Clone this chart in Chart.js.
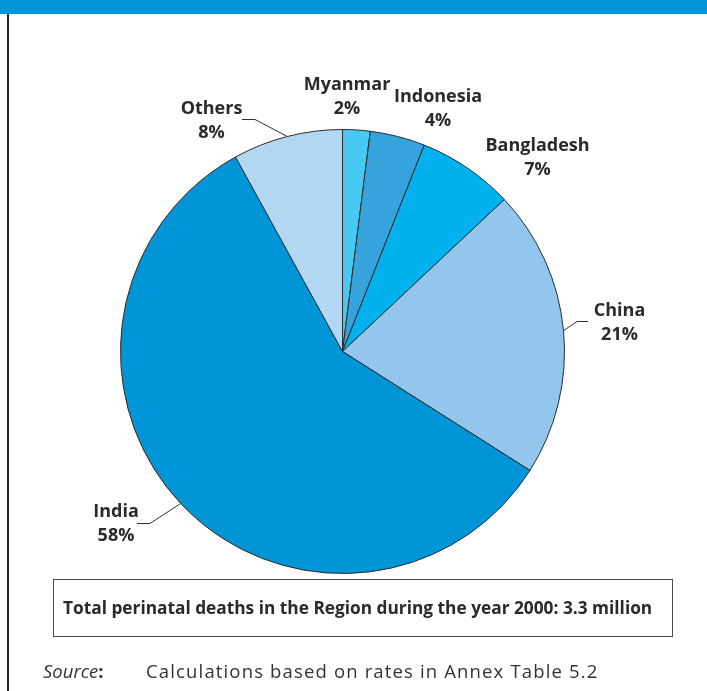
<!DOCTYPE html>
<html>
<head>
<meta charset="utf-8">
<script src="https://cdn.jsdelivr.net/npm/chart.js@4"></script>
<style>
    html, body { margin: 0; padding: 0; background: #fff; }
    #page { position: relative; width: 707px; height: 691px; overflow: hidden; }
    #topBar { position: absolute; left: 0; top: 0; width: 707px; height: 14px; background: #0095d9; }
    #sideRule { position: absolute; left: 7px; top: 14px; width: 2px; height: 677px; background: #262626; }
    #myChart { position: absolute; left: 0; top: 0; }
    #totalBox {
        position: absolute; left: 53px; top: 579px; width: 620px; height: 58px;
        box-sizing: border-box; border: 1.5px solid #4a4a4a;
        font-family: "Open Sans", sans-serif; font-weight: bold; font-size: 17.3px; color: #2a2a2a;
        line-height: 55px; padding-left: 9px; white-space: nowrap;
    }
    #source {
        position: absolute; left: 43px; top: 658px; white-space: nowrap;
        font-family: "Open Sans", sans-serif; font-size: 18.5px; color: #333;
    }
    #source i { font-style: italic; }
    #source b { font-weight: bold; }
    #source .txt { position: absolute; left: 103px; top: 0; letter-spacing: 1.15px; }
</style>
</head>
<body>
<div id="page">
    <div id="topBar"></div>
    <div id="sideRule"></div>
    <canvas id="myChart" width="707" height="691"></canvas>
    <div id="totalBox">Total perinatal deaths in the Region during the year 2000: 3.3 million</div>
    <div id="source"><i>Source</i><b>:</b><span class="txt">Calculations based on rates in Annex Table 5.2</span></div>
</div>

<script>
// Tỷ lệ tử vong chu sinh theo quốc gia (%)
var countries = ["Myanmar", "Indonesia", "Bangladesh", "China", "India", "Others"];
var shares = [2, 4, 7, 21, 58, 8];
var sliceColors = ["#48c9f4", "#36a3dc", "#00b1ed", "#93c6ec", "#0095d7", "#b1d7f2"];

// Vị trí nhãn so với tâm hình tròn: [dx, dy baseline dòng tên]
var labelOffsets = [[4.5, -261.5], [95.5, -249.5], [195, -200.5], [277, -35.5], [-226.5, 165.5], [-131, -237.5]];
// Đường dẫn nhãn: [dx khuỷu, dy khuỷu, độ dài đoạn ngang] hoặc null
var leaderLines = [null, null, null, [234.5, -30, 11], [-192.5, 172, -13], [-87.5, -232, -13]];

const sliceLabels = {
    id: 'sliceLabels',
    afterDatasetsDraw(chart) {
        const ctx = chart.ctx;
        const arcs = chart.getDatasetMeta(0).data;
        ctx.save();
        arcs.forEach(function (arc, i) {
            const p = arc.getProps(['x', 'y', 'startAngle', 'endAngle', 'outerRadius'], true);
            const mid = (p.startAngle + p.endAngle) / 2;

            // vẽ đường dẫn từ mép cung ra nhãn
            const leader = leaderLines[i];
            if (leader) {
                const ex = p.x + Math.cos(mid) * p.outerRadius;
                const ey = p.y + Math.sin(mid) * p.outerRadius;
                const kx = p.x + leader[0];
                const ky = p.y + leader[1];
                ctx.beginPath();
                ctx.moveTo(ex, ey);
                ctx.lineTo(kx, ky);
                ctx.lineTo(kx + leader[2], ky);
                ctx.strokeStyle = '#333';
                ctx.lineWidth = 1;
                ctx.stroke();
            }

            const lx = p.x + labelOffsets[i][0];
            const ly = p.y + labelOffsets[i][1];
            ctx.fillStyle = '#2a2a2a';
            ctx.font = 'bold 18px "Open Sans", sans-serif';
            ctx.textAlign = 'center';
            ctx.textBaseline = 'alphabetic';
            ctx.fillText(countries[i], lx, ly);
            ctx.fillText(Math.round(shares[i]) + '%', lx, ly + 23.5);
        });
        ctx.restore();
    }
};

document.addEventListener("DOMContentLoaded", function () {
    const ctx = document.getElementById('myChart').getContext('2d');
    new Chart(ctx, {
        type: 'pie',
        data: {
            labels: countries,
            datasets: [{
                data: shares,
                backgroundColor: sliceColors,
                borderColor: '#2b2b2b',
                borderWidth: 1
            }]
        },
        options: {
            responsive: false,
            animation: false,
            layout: {
                padding: { left: 120, right: 142, top: 129, bottom: 117 }
            },
            plugins: {
                legend: { display: false },
                tooltip: { enabled: false }
            }
        },
        plugins: [sliceLabels]
    });
});
</script>
</body>
</html>
